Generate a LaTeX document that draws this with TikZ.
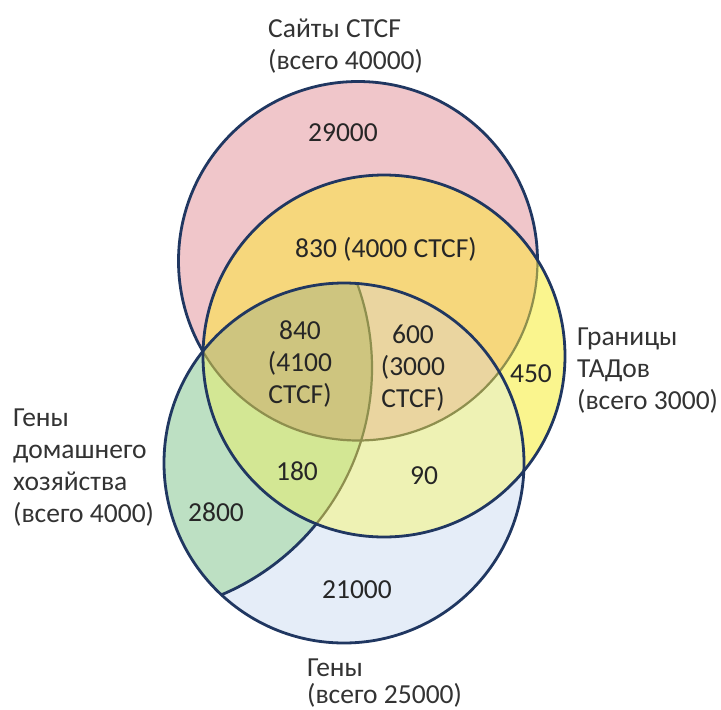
\documentclass[tikz,border=0pt]{standalone}
\usepackage{fontspec}
\setmainfont{Carlito}
\definecolor{ctcfpink}{HTML}{F0C6CA}
\definecolor{genblue}{HTML}{E5EDF8}
\definecolor{hkgreen}{HTML}{BDE0C3}
\definecolor{tadyellow}{HTML}{FAF58E}
\definecolor{orangeA}{HTML}{F6D77C}
\definecolor{paleB}{HTML}{EEF2B4}
\definecolor{greenC}{HTML}{D3E794}
\definecolor{tanD}{HTML}{EAD5A0}
\definecolor{oliveE}{HTML}{CEC57F}
\definecolor{navyline}{HTML}{203761}
\definecolor{oliveline}{HTML}{8E8F4E}
\definecolor{numgray}{HTML}{262626}
\definecolor{lblgray}{HTML}{333333}
\begin{document}
\begin{tikzpicture}[x=1pt,y=-1pt,
  txt/.style={inner sep=0pt, text=numgray, font=\fontsize{27.5}{32}\selectfont, align=center},
  lbl/.style={inner sep=0pt, text=lblgray, font=\fontsize{27.5}{32}\selectfont, align=left, anchor=west},
  outl/.style={draw=navyline, line width=2.8pt},
  innerl/.style={draw=oliveline, line width=2.2pt}]
\useasboundingbox[fill=white] (0,0) rectangle (721,710);
\def\CTCF{(358,261) circle[radius=179.5pt]}
\def\TAD{(384,356) circle[radius=181pt]}
\def\GEN{(344,463) circle[radius=180pt]}
\def\HK{(126,368) circle[radius=246pt]}
% base fills
\fill[ctcfpink] \CTCF;
\fill[genblue] \GEN;
\begin{scope}
  \clip \GEN;
  \fill[hkgreen] \HK;
  \draw[outl] \HK;
\end{scope}
\draw[outl] \CTCF;
\fill[tadyellow] \TAD;
\begin{scope}
  \clip \TAD;
  \fill[orangeA] \CTCF;
  \begin{scope}
    \clip \GEN;
    \fill[paleB] \GEN;
    \begin{scope}
      \clip \HK;
      \fill[greenC] \GEN;
    \end{scope}
    \begin{scope}
      \clip \CTCF;
      \fill[tanD] \GEN;
      \begin{scope}
        \clip \HK;
        \fill[oliveE] \GEN;
      \end{scope}
    \end{scope}
    \draw[innerl] \HK;
  \end{scope}
  \draw[innerl] \CTCF;
\end{scope}
\draw[outl] \TAD;
\draw[outl] \GEN;
% numbers
\node[txt] (n29000) at (343,133) {29000};
\node[txt] (n830) at (386,249) {830 (4000 CTCF)};
\node[txt] (n840) at (300,364) {840\\(4100\\CTCF)};
\node[txt] (n600) at (413,368) {600\\(3000\\CTCF)};
\node[txt] (n450) at (531,374) {450};
\node[txt] (n180) at (297,471) {180};
\node[txt] (n90) at (424,476) {90};
\node[txt] (n2800) at (216,512) {2800};
\node[txt] (n21000) at (357,590) {21000};
% labels
\node[lbl] (lctcf) at (268,46) {Сайты CTCF\\(всего 40000)};
\node[lbl] (ltad) at (577,371) {Границы\\ТАДов\\(всего 3000)};
\node[lbl] (lhk) at (13,468) {Гены\\домашнего\\хозяйства\\(всего 4000)};
\node[lbl, font=\fontsize{27.5}{27}\selectfont] (lgen) at (307,683) {Гены\\(всего 25000)};
\end{tikzpicture}
\end{document}
